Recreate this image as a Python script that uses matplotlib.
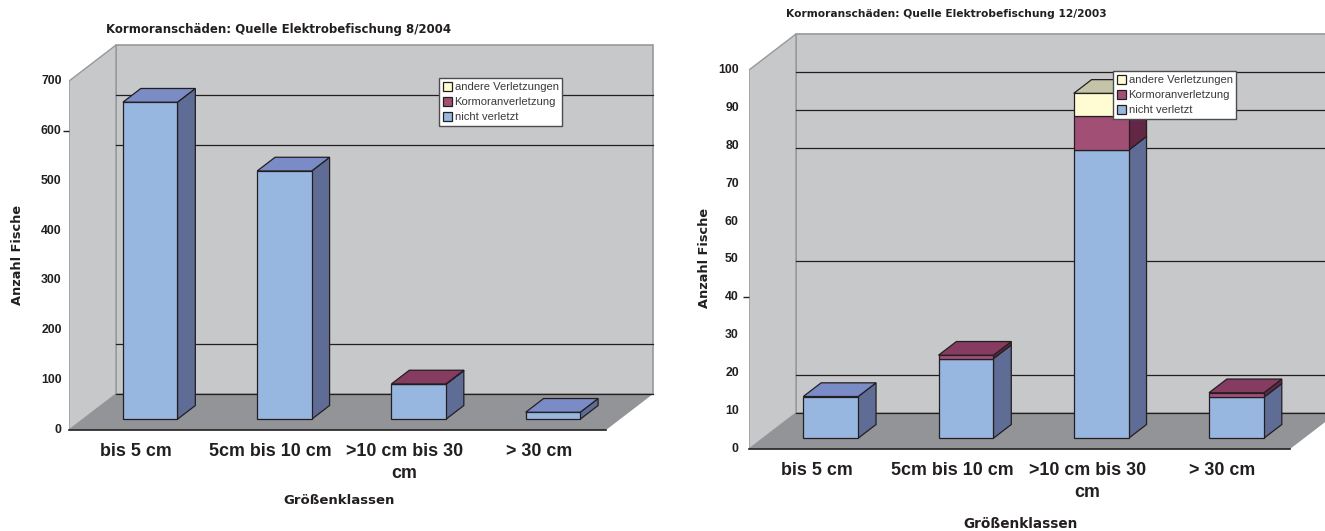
import matplotlib
matplotlib.use('Agg')
import matplotlib.pyplot as plt
from matplotlib.patches import Polygon, Patch
from matplotlib.transforms import ScaledTranslation

# data
categories = ['bis 5 cm', '5cm bis 10 cm', '>10 cm bis 30\ncm', '> 30 cm']
series_names = ['nicht verletzt', 'Kormoranverletzung', 'andere Verletzungen']

left_title = 'Kormoranschäden: Quelle Elektrobefischung 8/2004'
left_nicht = [636, 498, 70, 14]
left_kormoran = [0, 0, 0.8, 0]
left_andere = [0, 0, 0, 0]
left_ticks = [0, 100, 200, 300, 400, 500, 600, 700]
left_grid = [100, 500, 600]

right_title = 'Kormoranschäden: Quelle Elektrobefischung 12/2003'
right_nicht = [11, 21, 76, 10.8]
right_kormoran = [0, 0.9, 9, 1.2]
right_andere = [0, 0, 6, 0]
right_ticks = [0, 10, 20, 30, 40, 50, 60, 70, 80, 90, 100]
right_grid = [10, 40, 70, 80, 90]

# (front, side, top) colours per series
colours = [('#97B7E0', '#5E6C96', '#7B8BC6'),
           ('#A24F75', '#612744', '#863B61'),
           ('#FFFBD2', '#9A9A80', '#C4C4A8')]
WALL = '#C7C8CA'
FLOOR = '#929497'
EDGE = '#97989B'
INK = '#231F20'

W, H = 1325, 531
BOLD = 'Liberation Sans'

fig = plt.figure(figsize=(W / 100, H / 100), dpi=100)
fig.patch.set_facecolor('white')


def px(x, y):
    return x / W, 1 - y / H


def chart(x0, y_zero, y_top, cat_w, n_cats_wide, y_scale, depth_px, series, ticks, grid,
          marked_tick, tick_pad, legend_box):
    """One fake-3D stacked column chart, front plane of the box is the axes' data plane."""
    ax = fig.add_axes([x0 / W, 1 - y_zero / H, cat_w * n_cats_wide / W, (y_zero - y_top) / H])
    ax.set_xlim(-0.5, n_cats_wide - 0.5)
    ax.set_ylim(0, (y_zero - y_top) / y_scale)
    ax.patch.set_visible(False)
    for s in ax.spines.values():
        s.set_visible(False)

    dx = depth_px[0] / cat_w
    dy = depth_px[1] / y_scale

    def pr(x, y, z):
        return (x + z * dx, y + z * dy)

    xl = -0.5
    xr = 3.5
    top = ticks[-1]

    # walls and floor
    ax.add_patch(Polygon([pr(xl, 0, 1), pr(xr, 0, 1), pr(xr, top, 1), pr(xl, top, 1)],
                         fc=WALL, ec=EDGE, lw=1.2, zorder=1))
    ax.add_patch(Polygon([pr(xl, 0, 0), pr(xl, 0, 1), pr(xl, top, 1), pr(xl, top, 0)],
                         fc=WALL, ec=EDGE, lw=1.0, zorder=1))
    ax.add_patch(Polygon([pr(xl, 0, 0), pr(xr, 0, 0), pr(xr, 0, 1), pr(xl, 0, 1)],
                         fc=FLOOR, ec='none', zorder=1.5))
    ax.plot(*zip(pr(xl, 0, 1), pr(xr, 0, 1)), color=INK, lw=0.9, zorder=2)
    ax.plot(*zip(pr(xl, 0, 0), pr(xr, 0, 0)), color=INK, lw=1.2, zorder=2, clip_on=False)
    for v in grid:
        ax.plot(*zip(pr(xl, v, 1), pr(xr, v, 1)), color=INK, lw=0.9, zorder=2)

    # columns
    half = 0.203
    z0, z1 = 0.3, 0.68
    for i in range(len(categories)):
        base = 0
        last = max(k for k in range(3) if series[k][i] > 0)
        for k in range(3):
            h = series[k][i]
            if h <= 0:
                continue
            front, side, roof = colours[k]
            a, b = i - half, i + half
            ax.add_patch(Polygon([pr(b, base, z0), pr(b, base, z1), pr(b, base + h, z1), pr(b, base + h, z0)],
                                 fc=side, ec=INK, lw=0.9, zorder=3 + k * 0.1))
            ax.add_patch(Polygon([pr(a, base, z0), pr(b, base, z0), pr(b, base + h, z0), pr(a, base + h, z0)],
                                 fc=front, ec=INK, lw=0.9, zorder=3.05 + k * 0.1))
            if k == last:
                ax.add_patch(Polygon([pr(a, base + h, z0), pr(b, base + h, z0), pr(b, base + h, z1), pr(a, base + h, z1)],
                                     fc=roof, ec=INK, lw=0.9, zorder=3.5))
            base += h

    ax.set_xticks(range(len(categories)))
    ax.set_xticklabels(categories, fontfamily=BOLD, fontweight='bold', fontsize=12.9,
                       color=INK, linespacing=1.4)
    ax.tick_params(axis='x', length=0, pad=9.5)
    ax.set_yticks(ticks)
    ax.set_yticklabels([str(t) for t in ticks], fontfamily=BOLD, fontweight='bold',
                       fontsize=8.8, color=INK)
    ax.tick_params(axis='y', length=4.3, width=1.0, color=INK, pad=tick_pad)
    up = ScaledTranslation(0, 1.5 / 100, fig.dpi_scale_trans)
    for lab in ax.get_yticklabels():
        lab.set_transform(lab.get_transform() + up)
    for t, v in zip(ax.yaxis.get_major_ticks(), ticks):
        if v != marked_tick:
            t.tick1line.set_visible(False)

    handles = [Patch(fc=colours[k][0], ec=INK, lw=0.9, label=series_names[k]) for k in (2, 1, 0)]
    fx, fy = px(legend_box[0], legend_box[1])
    leg = fig.legend(handles=handles, loc='upper left', bbox_to_anchor=(fx, fy),
                     prop={'family': 'Liberation Sans', 'size': 8.15}, frameon=True,
                     fancybox=False, framealpha=1, edgecolor='#4D4D4F', labelcolor='#3A3A3C',
                     handlelength=0.85, handleheight=0.85, handletextpad=0.2,
                     labelspacing=0.42, borderpad=0.32, borderaxespad=0)
    leg.get_frame().set_linewidth(1.0)
    leg.set_zorder(10)
    return ax


chart(69, 430, 43, 134.25, 4.4, 0.4985, (47, 36),
      [left_nicht, left_kormoran, left_andere], left_ticks, left_grid, 600, 1.0, (439, 78))
chart(749, 449, 31, 135.25, 4.4, 3.79, (47, 36),
      [right_nicht, right_kormoran, right_andere], right_ticks, right_grid, 40, 3.0, (1113, 71))

# titles and axis names
label_style = dict(family='DejaVu Sans', fontweight='bold', color=INK, ha='center', va='center')
fig.text(*px(278.5, 29), left_title, fontsize=8.5, **label_style)
fig.text(*px(946, 14), right_title, fontsize=7.7, **label_style)
fig.text(*px(339, 500), 'Größenklassen', fontsize=9.5, **label_style)
fig.text(*px(1021, 524), 'Größenklassen', fontsize=9.8, **label_style)
fig.text(*px(18, 255), 'Anzahl Fische', fontsize=9.3, rotation=90, **label_style)
fig.text(*px(705, 258), 'Anzahl Fische', fontsize=9.3, rotation=90, **label_style)

fig.savefig('out.png', dpi=100)
